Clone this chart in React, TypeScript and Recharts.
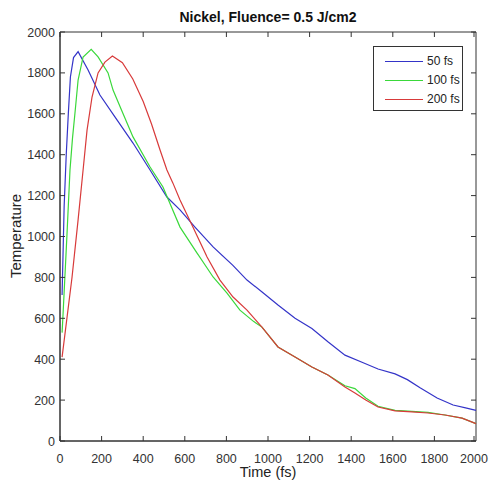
import React from 'react';
import { LineChart, Line, XAxis, YAxis, ReferenceArea } from 'recharts';

// time (fs) / temperature samples
const t50 = [10, 20, 30, 40, 50, 65, 87, 135, 192, 264, 351, 433, 514, 577, 650, 736, 830, 899, 970, 1048, 1130, 1211, 1288, 1370, 1452, 1529, 1611, 1670, 1731, 1813, 1890, 1950, 2000];
const v50 = [714, 1150, 1400, 1600, 1780, 1875, 1904, 1814, 1692, 1585, 1457, 1325, 1193, 1130, 1045, 949, 860, 787, 730, 665, 600, 550, 485, 420, 385, 352, 328, 300, 260, 210, 176, 162, 150];

const t100 = [10, 14, 33, 48, 60, 72, 87, 111, 150, 183, 231, 255, 291, 351, 433, 495, 577, 659, 736, 803, 865, 930, 971, 1048, 1130, 1211, 1288, 1370, 1418, 1470, 1529, 1611, 1692, 1769, 1851, 1933, 2000];
const v100 = [530, 606, 998, 1325, 1480, 1604, 1765, 1878, 1915, 1878, 1800, 1716, 1630, 1487, 1340, 1242, 1046, 919, 802, 723, 640, 585, 557, 460, 411, 362, 323, 270, 256, 210, 170, 150, 145, 140, 127, 112, 85];

const t200 = [10, 58, 87, 111, 130, 154, 183, 216, 252, 300, 350, 400, 440, 481, 514, 543, 577, 639, 707, 769, 832, 899, 971, 1048, 1130, 1211, 1288, 1370, 1418, 1470, 1529, 1611, 1692, 1769, 1851, 1933, 2000];
const v200 = [410, 802, 1081, 1325, 1520, 1682, 1800, 1853, 1883, 1850, 1770, 1660, 1550, 1423, 1325, 1261, 1178, 1046, 900, 787, 704, 640, 557, 460, 411, 362, 323, 264, 235, 200, 166, 147, 142, 137, 127, 112, 85];

const ticks = [0, 200, 400, 600, 800, 1000, 1200, 1400, 1600, 1800, 2000];

const series = [
  { name: '50 fs', t: t50, v: v50, color: '#3434c8' },
  { name: '100 fs', t: t100, v: v100, color: '#3ad83a' },
  { name: '200 fs', t: t200, v: v200, color: '#d83a3a' },
];

const LEFT = 60;
const RIGHT = 476;
const TOP = 32;
const BOTTOM = 441;
const FONT = '"Liberation Sans", Arial, sans-serif';
const INK = '#333';

const XTick = ({ x, payload }: any) => (
  <g>
    <line x1={x} x2={x} y1={BOTTOM} y2={BOTTOM - 5} stroke={INK} />
    <line x1={x} x2={x} y1={TOP} y2={TOP + 5} stroke={INK} />
    <text x={x} y={BOTTOM + 21.5} textAnchor="middle" fontSize={12.5} fill={INK} style={{ fontFamily: FONT }}>
      {payload.value}
    </text>
  </g>
);

const YTick = ({ y, payload }: any) => (
  <g>
    <line x1={LEFT} x2={LEFT + 5} y1={y} y2={y} stroke={INK} />
    <line x1={RIGHT} x2={RIGHT - 5} y1={y} y2={y} stroke={INK} />
    <text x={LEFT - 5} y={y + 4.5} textAnchor="end" fontSize={12.5} fill={INK} style={{ fontFamily: FONT }}>
      {payload.value}
    </text>
  </g>
);

const LegendBox = () => (
  <div style={{ position: 'absolute', left: 373, top: 46, width: 90, height: 65, border: `1px solid ${INK}`, background: '#fff', boxSizing: 'border-box', fontSize: 12, color: '#222' }}>
    {series.map((s, i) => (
      <div key={s.name} style={{ position: 'absolute', left: 11, top: 7 + i * 19, display: 'flex', alignItems: 'center', height: 14 }}>
        <div style={{ width: 38, height: 0, borderTop: `1.3px solid ${s.color}` }} />
        <span style={{ marginLeft: 4 }}>{s.name}</span>
      </div>
    ))}
  </div>
);

export default function App() {
  return (
    <div style={{ position: 'absolute', left: 0, top: 0, width: 490, height: 493, background: '#fff', fontFamily: FONT }}>
      <LineChart width={490} height={493} margin={{ top: TOP, right: 490 - RIGHT, bottom: 0, left: 0 }}>
        <ReferenceArea x1={0} x2={2000} y1={0} y2={2000} fill="none" stroke={INK} strokeWidth={1} ifOverflow="visible" />
        <XAxis
          type="number"
          dataKey="t"
          domain={[0, 2000]}
          ticks={ticks}
          height={493 - BOTTOM}
          tick={<XTick />}
          tickLine={false}
          axisLine={{ stroke: INK }}
          allowDuplicatedCategory={false}
          label={{
            content: ({ viewBox }: any) => (
              <text x={viewBox.x + viewBox.width / 2} y={477} textAnchor="middle" fontSize={14.5} fill="#222" style={{ fontFamily: FONT }}>
                Time (fs)
              </text>
            ),
          }}
        />
        <YAxis
          type="number"
          domain={[0, 2000]}
          ticks={ticks}
          width={LEFT}
          tick={<YTick />}
          tickLine={false}
          axisLine={{ stroke: INK }}
          label={{
            content: () => (
              <text x={21} y={236} transform="rotate(-90, 21, 236)" textAnchor="middle" fontSize={15} fill="#222" style={{ fontFamily: FONT }}>
                Temperature
              </text>
            ),
          }}
        />
        {series.map((s) => (
          <Line
            key={s.name}
            name={s.name}
            data={s.t.map((t, i) => ({ t, v: s.v[i] }))}
            dataKey="v"
            type="linear"
            stroke={s.color}
            strokeWidth={1.2}
            dot={false}
            isAnimationActive={false}
          />
        ))}
      </LineChart>
      <div style={{ position: 'absolute', left: 0, width: LEFT + RIGHT, top: 9, textAlign: 'center', fontWeight: 'bold', fontSize: 14, color: '#111' }}>
        Nickel, Fluence= 0.5 J/cm2
      </div>
      <LegendBox />
    </div>
  );
}
